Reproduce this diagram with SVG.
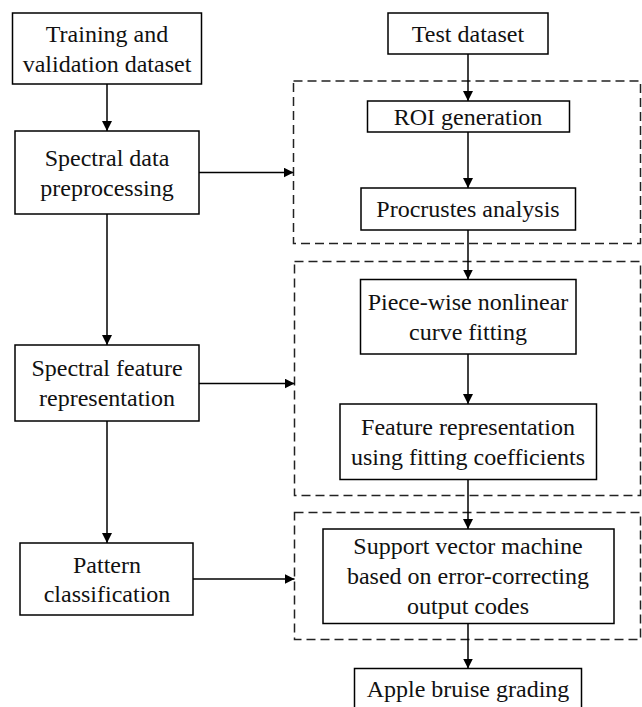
<svg xmlns="http://www.w3.org/2000/svg" width="642" height="707" viewBox="0 0 642 707">
<style>
.box{fill:#fff;stroke:#000;stroke-width:1.5}
.dash{fill:none;stroke:#222;stroke-width:1.5;stroke-dasharray:9 5}
text{font-family:'Liberation Serif','DejaVu Serif',serif;font-size:24px;fill:#111;text-anchor:middle}
.c{stroke:#000;stroke-width:1.5;fill:none;marker-end:url(#ah)}
</style>
<defs>
<marker id="ah" markerWidth="10" markerHeight="11" refX="10" refY="5" orient="auto" markerUnits="userSpaceOnUse">
<path d="M0,0 L10,5 L0,10 Z" fill="#000"/>
</marker>
</defs>
<rect width="642" height="707" fill="#fff"/>
<g id="groups">
<rect id="group1" class="dash" x="293.5" y="81" width="347" height="162.5"/>
<rect id="group2" class="dash" x="294.5" y="261.5" width="346" height="234"/>
<rect id="group3" class="dash" x="294.5" y="512.5" width="346" height="127"/>
</g>
<g id="connectors">
<line class="c" x1="107" y1="84" x2="107" y2="131"/>
<line class="c" x1="107" y1="214" x2="107" y2="345"/>
<line class="c" x1="107" y1="421" x2="107" y2="543"/>
<line class="c" x1="199" y1="172.5" x2="293.5" y2="172.5"/>
<line class="c" x1="199" y1="383.5" x2="294.5" y2="383.5"/>
<line class="c" x1="193" y1="579" x2="294.5" y2="579"/>
<line class="c" x1="468" y1="54" x2="468" y2="101"/>
<line class="c" x1="468" y1="132" x2="468" y2="188"/>
<line class="c" x1="468" y1="230" x2="468" y2="279.5"/>
<line class="c" x1="468" y1="354" x2="468" y2="404"/>
<line class="c" x1="468" y1="479.5" x2="468" y2="529"/>
<line class="c" x1="468" y1="623.5" x2="468" y2="668.5"/>
</g>
<g id="n_training">
<rect class="box" x="12.5" y="13" width="189" height="71"/>
<text x="107" y="41.7" font-family="Liberation Serif, serif">Training and</text>
<text x="107" y="71.7" font-family="Liberation Serif, serif">validation dataset</text>
</g>
<g id="n_preproc">
<rect class="box" x="15" y="131" width="184" height="83"/>
<text x="107" y="165.7">Spectral data</text>
<text x="107" y="195.7">preprocessing</text>
</g>
<g id="n_feature">
<rect class="box" x="15" y="345" width="184" height="76"/>
<text x="107" y="375.8">Spectral feature</text>
<text x="107" y="405.8">representation</text>
</g>
<g id="n_pattern">
<rect class="box" x="20" y="543" width="173" height="72"/>
<text x="107" y="572.5">Pattern</text>
<text x="107" y="602">classification</text>
</g>
<g id="n_test">
<rect class="box" x="388" y="13" width="160" height="41"/>
<text x="468" y="41.7">Test dataset</text>
</g>
<g id="n_roi">
<rect class="box" x="367.5" y="101" width="202" height="31"/>
<text x="468" y="124.5">ROI generation</text>
</g>
<g id="n_procrustes">
<rect class="box" x="361" y="188" width="214.5" height="42"/>
<text x="468" y="217">Procrustes analysis</text>
</g>
<g id="n_piecewise">
<rect class="box" x="360.5" y="279.5" width="215.5" height="74.5"/>
<text x="468" y="310">Piece-wise nonlinear</text>
<text x="468" y="340">curve fitting</text>
</g>
<g id="n_featrep">
<rect class="box" x="340" y="404" width="256.5" height="75.5"/>
<text x="468" y="435">Feature representation</text>
<text x="468" y="465">using fitting coefficients</text>
</g>
<g id="n_svm">
<rect class="box" x="323" y="529" width="291" height="94.5"/>
<text x="468" y="553.5">Support vector machine</text>
<text x="468" y="583.5">based on error-correcting</text>
<text x="468" y="613.5">output codes</text>
</g>
<g id="n_apple">
<rect class="box" x="354.5" y="668.5" width="227" height="45"/>
<text x="468" y="697">Apple bruise grading</text>
</g>
</svg>
